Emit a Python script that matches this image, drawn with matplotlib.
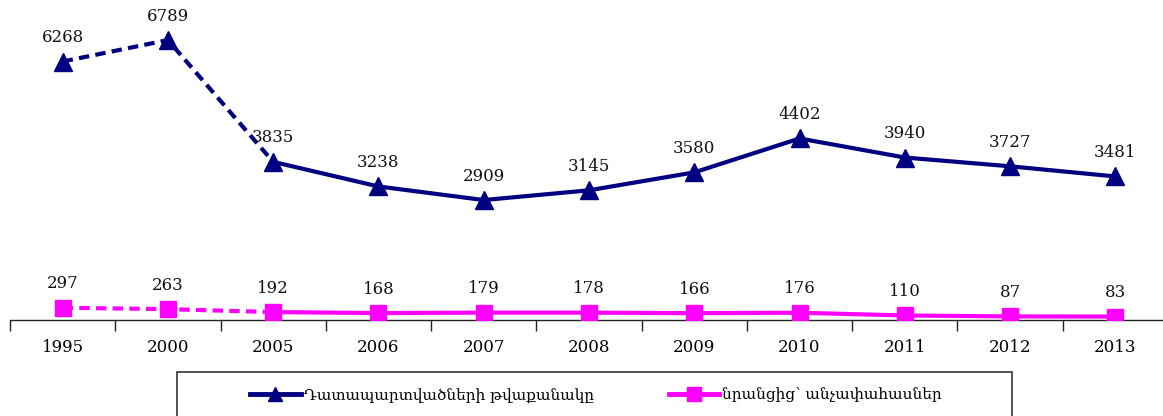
import matplotlib
matplotlib.use("Agg")
import matplotlib.pyplot as plt
from matplotlib.lines import Line2D
from matplotlib.patches import Rectangle

years = ["1995", "2000", "2005", "2006", "2007", "2008", "2009", "2010", "2011", "2012", "2013"]
convicted = [6268, 6789, 3835, 3238, 2909, 3145, 3580, 4402, 3940, 3727, 3481]
minors = [297, 263, 192, 168, 179, 178, 166, 176, 110, 87, 83]
legend_labels = ["Դատապարտվածների թվաքանակը", "նրանցից՝ անչափահասներ"]

NAVY = "#000080"
MAGENTA = "#FF00FF"
FONT = ["DejaVu Serif"]
plt.rcParams["font.family"] = FONT

W, H = 1163, 416
fig = plt.figure(figsize=(W / 100, H / 100), dpi=100)
ax = fig.add_axes([10 / W, (H - 320) / H, 1158 / W, 320 / H])
ax.set_xlim(-0.5, len(years) - 0.5)
ax.set_ylim(0, 7760)
ax.patch.set_alpha(0)

x = list(range(len(years)))
n_dash = 3  # first segments (1995-2000-2005) dashed
for vals, col, mk, ms in [(convicted, NAVY, "^", 13), (minors, MAGENTA, "s", 12)]:
    ax.plot(x[:n_dash], vals[:n_dash], color=col, lw=3, ls=(0, (2.5, 1.5)), zorder=2)
    ax.plot(x[n_dash - 1:], vals[n_dash - 1:], color=col, lw=3, ls="-", zorder=2)
    ax.plot(x, vals, ls="none", marker=mk, color=col, ms=ms, zorder=3)
    for xi, v in zip(x, vals):
        ax.annotate(str(v), (xi, v), xytext=(0, 24), textcoords="offset pixels",
                    ha="center", va="center", fontsize=12, color="#111111")

for s in ["top", "right", "left"]:
    ax.spines[s].set_visible(False)
ax.spines["bottom"].set_color("#222222")
ax.spines["bottom"].set_linewidth(1)
ax.set_yticks([])
ax.set_xticks([i - 0.5 for i in range(len(years) + 1)])
ax.set_xticklabels([])
ax.set_xticks(x, minor=True)
ax.set_xticklabels(years, minor=True, fontsize=12)
ax.tick_params(axis="x", which="major", direction="out", length=8, width=1, color="#222222")
ax.tick_params(axis="x", which="minor", length=0, pad=14)

# legend box
fig.patches.append(Rectangle((177 / W, -0.05), (1012 - 177) / W, (H - 372) / H + 0.05,
                             transform=fig.transFigure, fill=False, edgecolor="#333333", lw=1.2))
handles = [Line2D([], [], color=NAVY, lw=3.5, marker="^", ms=10),
           Line2D([], [], color=MAGENTA, lw=3.5, marker="s", ms=10)]
fig.legend(handles, legend_labels, loc="center", bbox_to_anchor=(596 / W, 1 - 395 / H),
           ncol=2, frameon=False, fontsize=11, handlelength=3.3, handletextpad=0.2,
           columnspacing=4.9)

fig.savefig("out.png", dpi=100)
